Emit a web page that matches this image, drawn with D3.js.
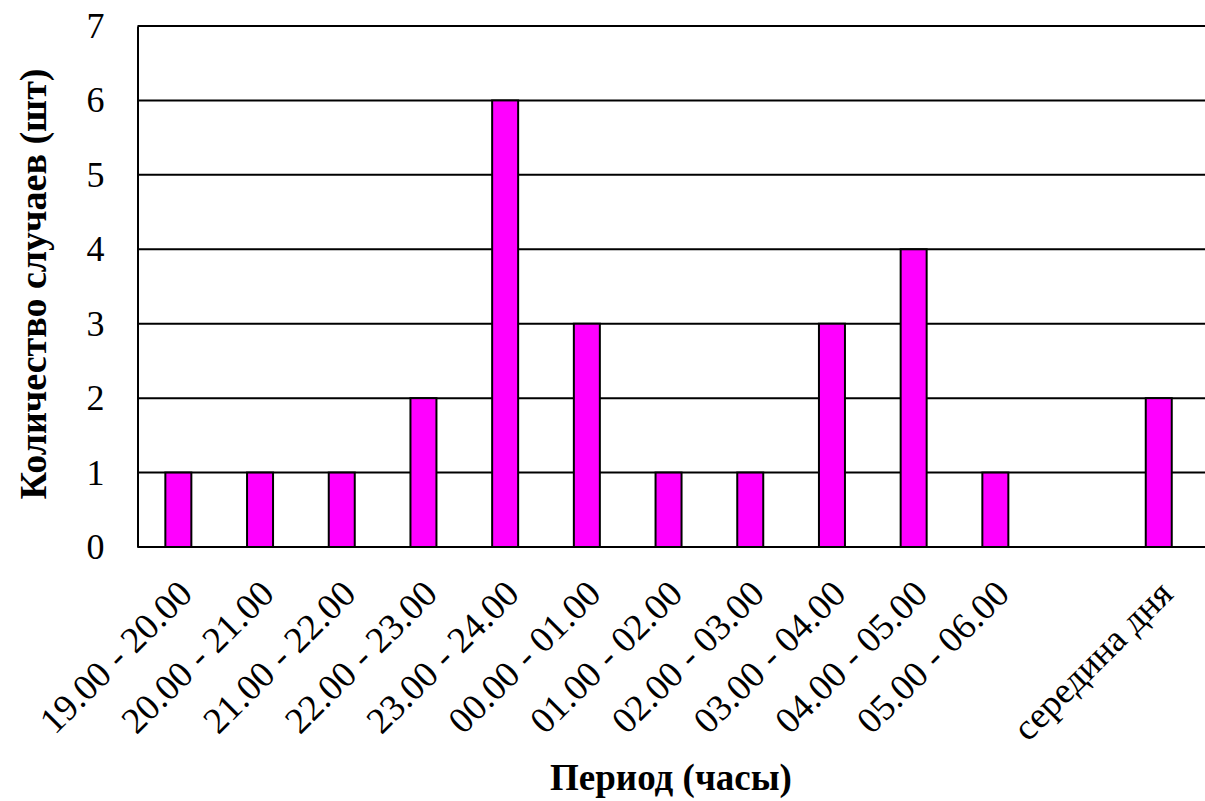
<!DOCTYPE html>
<html><head><meta charset="utf-8">
<script src="https://cdn.jsdelivr.net/npm/d3@7"></script>
<style>body{margin:0;background:#fff}svg{display:block}</style>
</head><body>
<svg id="c" width="1205" height="801"></svg>
<script>
const categories = ["19.00 - 20.00","20.00 - 21.00","21.00 - 22.00","22.00 - 23.00","23.00 - 24.00","00.00 - 01.00","01.00 - 02.00","02.00 - 03.00","03.00 - 04.00","04.00 - 05.00","05.00 - 06.00","","середина дня"];
const values = [1,1,1,2,6,3,1,1,3,4,1,0,2];
const yTicks = [0,1,2,3,4,5,6,7];
const yTitle = "Количество случаев (шт)";
const xTitle = "Период (часы)";

const FONT = '"Liberation Serif", "Times New Roman", Times, serif';
const svg = d3.select("#c");
const m = {l:137.5, t:26, r:1205, b:547};
const x = d3.scaleBand().domain(d3.range(categories.length)).range([m.l, m.l + 81.7*13]).paddingInner(0).paddingOuter(0);
const y = d3.scaleLinear().domain([0,7]).range([m.b, m.t]);

svg.append("g").selectAll("line").data(yTicks).join("line")
  .attr("x1", m.l).attr("x2", 1205)
  .attr("y1", d=>y(d)).attr("y2", d=>y(d))
  .attr("stroke","#000").attr("stroke-width",2);

const bw = 26;
svg.append("g").selectAll("rect").data(values.map((v,i)=>({v,i})).filter(d=>d.v>0)).join("rect")
  .attr("x", d=>x(d.i)+x.bandwidth()/2-bw/2)
  .attr("y", d=>y(d.v))
  .attr("width", bw)
  .attr("height", d=>y(0)-y(d.v))
  .attr("fill","#ff00ff").attr("stroke","#000").attr("stroke-width",2);

const ya = d3.axisLeft(y).tickValues(yTicks).tickFormat(d3.format("d")).tickSize(0).tickPadding(33);
const gy = svg.append("g").attr("transform",`translate(${m.l},0)`).call(ya);
gy.attr("font-family", null);
gy.select(".domain").attr("stroke","#000").attr("stroke-width",2);
gy.selectAll("text").style("font-family",FONT).style("font-size","36px").attr("fill","#000");

const xa = d3.axisBottom(x).tickFormat(i=>categories[i]).tickSize(0);
const gx = svg.append("g").attr("transform",`translate(0,${m.b})`).call(xa);
gx.attr("font-family", null);
gx.select(".domain").remove();
gx.selectAll("text").style("font-family",FONT).style("font-size","37px").attr("fill","#000")
  .attr("text-anchor","end").attr("dy",0).attr("y",0)
  .attr("transform","translate(16,49) rotate(-45)");

svg.append("text").attr("transform",`translate(46,284) rotate(-90)`)
  .attr("text-anchor","middle").style("font-family",FONT).style("font-weight","bold")
  .style("font-size","38px").text(yTitle);
svg.append("text").attr("x",671).attr("y",790)
  .attr("text-anchor","middle").style("font-family",FONT).style("font-weight","bold")
  .style("font-size","37px").text(xTitle);
</script>
</body></html>
